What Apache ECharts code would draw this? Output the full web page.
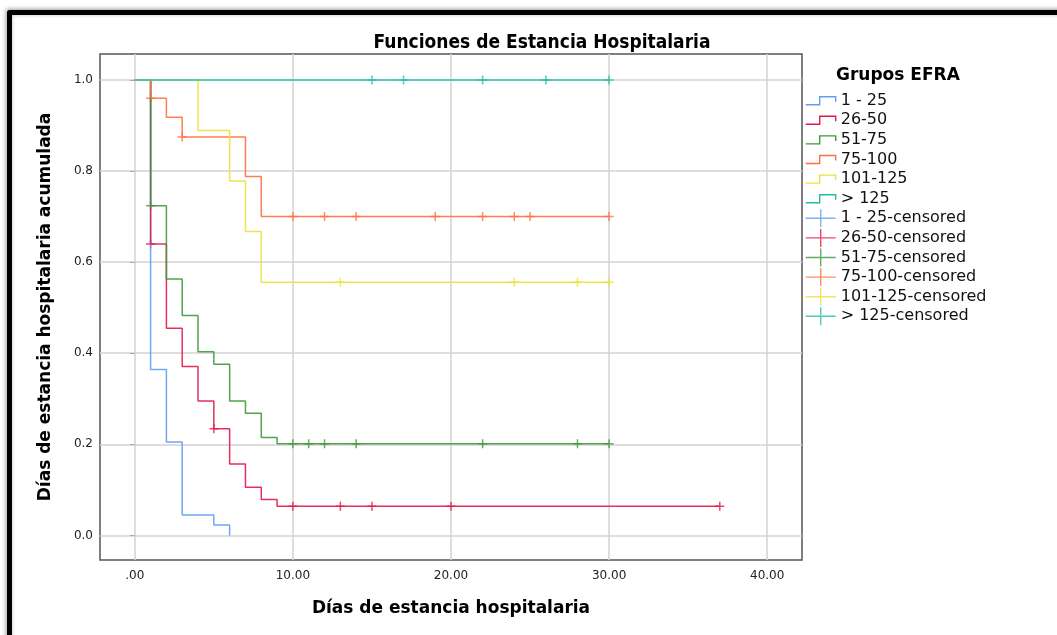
<!DOCTYPE html>
<html><head><meta charset="utf-8">
<script src="https://cdn.jsdelivr.net/npm/echarts@6/dist/echarts.min.js"></script>
<style>
html,body{margin:0;padding:0;background:#fff;overflow:hidden;}
#chart{position:absolute;left:0;top:0;width:1057px;height:635px;}
</style></head>
<body>
<div id="chart"></div>
<script>
// ---- data ----
const groupNames = ['1 - 25', '26-50', '51-75', '75-100', '101-125', '> 125'];
const xTicks = [0, 10, 20, 30, 40];
const yTicks = [0, 0.2, 0.4, 0.6, 0.8, 1.0];

// Kaplan-Meier step curves (event times, cumulative proportion)
const g1Times = [0, 1, 2, 3, 5, 6];
const g1Surv  = [1.000, 0.364, 0.205, 0.045, 0.023, 0.000];
const g2Times = [0, 1, 2, 3, 4, 5, 6, 7, 8, 9, 37];
const g2Surv  = [1.000, 0.640, 0.455, 0.371, 0.295, 0.234, 0.157, 0.106, 0.079, 0.064, 0.064];
const g3Times = [0, 1, 2, 3, 4, 5, 6, 7, 8, 9, 30];
const g3Surv  = [1.000, 0.724, 0.563, 0.483, 0.403, 0.376, 0.295, 0.268, 0.215, 0.201, 0.201];
const g4Times = [0, 1, 2, 3, 7, 8, 30];
const g4Surv  = [1.000, 0.960, 0.918, 0.875, 0.788, 0.700, 0.700];
const g5Times = [0, 4, 6, 7, 8, 30];
const g5Surv  = [1.000, 0.889, 0.778, 0.667, 0.556, 0.556];
const g6Times = [0, 30];
const g6Surv  = [1.000, 1.000];

// censored observations
const g1CensT = [];
const g1CensS = [];
const g2CensT = [1, 5, 10, 13, 15, 20, 37];
const g2CensS = [0.640, 0.234, 0.064, 0.064, 0.064, 0.064, 0.064];
const g3CensT = [1, 10, 11, 12, 14, 22, 28, 30];
const g3CensS = [0.724, 0.201, 0.201, 0.201, 0.201, 0.201, 0.201, 0.201];
const g4CensT = [1, 3, 10, 12, 14, 19, 22, 24, 25, 30];
const g4CensS = [0.960, 0.875, 0.700, 0.700, 0.700, 0.700, 0.700, 0.700, 0.700, 0.700];
const g5CensT = [13, 24, 28, 30];
const g5CensS = [0.556, 0.556, 0.556, 0.556];
const g6CensT = [15, 17, 22, 26, 30];
const g6CensS = [1.000, 1.000, 1.000, 1.000, 1.000];

const curveTimes = [g1Times, g2Times, g3Times, g4Times, g5Times, g6Times];
const curveSurv = [g1Surv, g2Surv, g3Surv, g4Surv, g5Surv, g6Surv];
const censTimes = [g1CensT, g2CensT, g3CensT, g4CensT, g5CensT, g6CensT];
const censSurv = [g1CensS, g2CensS, g3CensS, g4CensS, g5CensS, g6CensS];

// ---- styles ----
const colors = ['#5f9ff0', '#e21a4c', '#3f983b', '#ff7040', '#ebe13c', '#22bea8'];
const FONT = "'DejaVu Sans', 'Liberation Sans', sans-serif";
const stepIcon = 'path://M0,0 L0,0 M0,13 L14,13 L14,5 L30,5 L30,10 M30,18 L30,18';
const crossIcon = 'path://M0,9 L30,9 M15,0 L15,18';
const plusSymbol = 'path://M0,5 L10,5 M5,0 L5,10';

const zip = (a, b) => a.map((v, i) => [v, b[i]]);

const series = [];
const legendData = [];
groupNames.forEach((n, i) => {
  series.push({
    name: n, type: 'line', step: 'end', showSymbol: false, symbol: 'none',
    data: zip(curveTimes[i], curveSurv[i]),
    lineStyle: { color: colors[i], width: 1.5, opacity: 0.9 }, itemStyle: { color: colors[i] },
    emphasis: { disabled: true }
  });
  legendData.push({ name: n, icon: stepIcon,
    itemStyle: { color: 'rgba(0,0,0,0)', borderColor: colors[i], borderWidth: 1.4 } });
});
groupNames.forEach((n, i) => {
  const nm = n + '-censored';
  series.push({
    name: nm, type: 'scatter', symbol: plusSymbol, symbolSize: 9,
    data: zip(censTimes[i], censSurv[i]),
    itemStyle: { color: 'rgba(0,0,0,0)', borderColor: colors[i], borderWidth: 1.5 },
    emphasis: { disabled: true }
  });
  legendData.push({ name: nm, icon: crossIcon,
    itemStyle: { color: 'rgba(0,0,0,0)', borderColor: colors[i], borderWidth: 1.4 } });
});

const chart = echarts.init(document.getElementById('chart'), null, { renderer: 'canvas' });
chart.setOption({
  animation: false,
  backgroundColor: '#fff',
  graphic: [{
    type: 'polyline', silent: true, z: -10,
    shape: { points: [[9.5, 700], [9.5, 12.5], [1200, 12.5]] },
    style: { fill: null, stroke: '#000', lineWidth: 5, lineJoin: 'round',
      shadowBlur: 4, shadowColor: 'rgba(0,0,0,0.4)', shadowOffsetX: -1, shadowOffsetY: -1 }
  }],
  title: [
    { text: 'Funciones de Estancia Hospitalaria', left: 537, top: 29, textAlign: 'center',
      textStyle: { fontFamily: "'DejaVu Sans Condensed', 'Liberation Sans Narrow', 'Liberation Sans', sans-serif",
        fontWeight: 'bold', fontSize: 19, color: '#000' } },
    { text: 'Grupos EFRA', left: 831, top: 62,
      textStyle: { fontFamily: FONT, fontWeight: 'bold', fontSize: 17, color: '#000' } }
  ],
  legend: {
    orient: 'vertical', left: 805, top: 91, padding: 0, itemWidth: 30, itemHeight: 18, itemGap: 0.2,
    selectedMode: false, data: legendData,
    textStyle: { fontFamily: FONT, fontSize: 16, color: '#111', padding: [0, 0, 0, 0] }
  },
  grid: { left: 100, top: 54, right: 255, bottom: 75, show: true, borderColor: '#555', borderWidth: 1.5, containLabel: false },
  xAxis: {
    type: 'value', min: -2.2, max: 42.2,
    axisLine: { show: false },
    axisTick: { show: false, customValues: xTicks },
    axisLabel: { customValues: xTicks, margin: 10, fontFamily: FONT, fontSize: 12, color: '#222',
      formatter: v => v === 0 ? '.00' : v.toFixed(2) },
    splitLine: { show: true, lineStyle: { color: '#d3d3d3', width: 1.5 } },
    name: 'Días de estancia hospitalaria', nameLocation: 'middle', nameGap: 40,
    nameTextStyle: { fontFamily: FONT, fontWeight: 'bold', fontSize: 17, color: '#000' }
  },
  yAxis: {
    type: 'value', min: -0.054, max: 1.057,
    axisLine: { show: false },
    axisTick: { show: true, length: 5, customValues: yTicks, lineStyle: { color: '#aaa' } },
    axisLabel: { customValues: yTicks, margin: 7, fontFamily: FONT, fontSize: 12, color: '#222',
      formatter: v => v.toFixed(1) },
    splitLine: { show: true, lineStyle: { color: '#d3d3d3', width: 1.5 } },
    name: 'Días de estancia hospitalaria acumulada', nameLocation: 'middle', nameGap: 46,
    nameTextStyle: { fontFamily: FONT, fontWeight: 'bold', fontSize: 17, color: '#000' }
  },
  series: series
});
</script>
</body></html>
